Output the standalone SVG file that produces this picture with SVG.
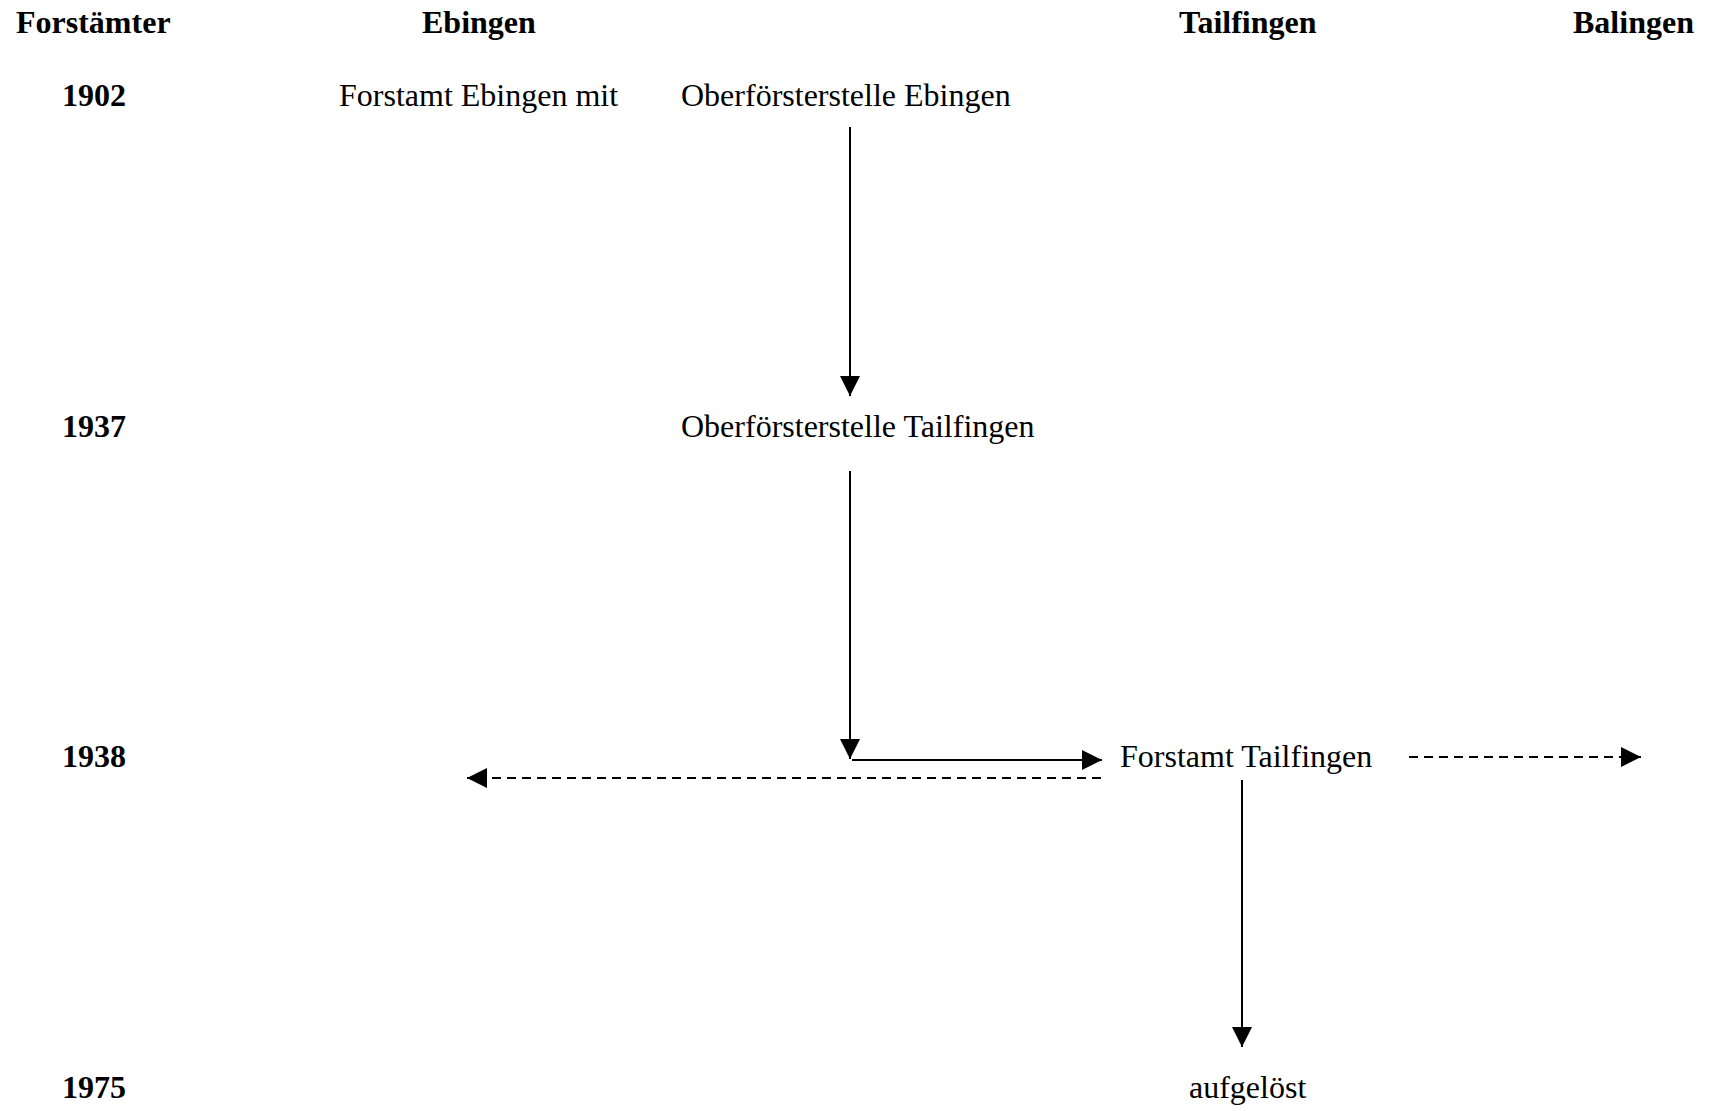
<svg xmlns="http://www.w3.org/2000/svg" width="1713" height="1111" viewBox="0 0 1713 1111">
<style>
text{font-family:"Liberation Serif","Times New Roman",serif;font-size:32px;fill:#000}
.h{font-weight:bold}
.c{fill:none;stroke:#000;stroke-width:2}
.d{stroke-dasharray:9 6}
</style>
<defs>
<marker id="ah" markerUnits="userSpaceOnUse" markerWidth="20" markerHeight="20" refX="20" refY="10" orient="auto" viewBox="0 0 20 20">
<path d="M0,0 L20,10 L0,20 z" fill="#000"/>
</marker>
</defs>
<rect width="1713" height="1111" fill="#fff"/>
<g id="headers">
<text class="h" x="16" y="33">Forstämter</text>
<text class="h" x="422" y="33">Ebingen</text>
<text class="h" x="1179" y="33">Tailfingen</text>
<text class="h" x="1573" y="33">Balingen</text>
</g>
<g id="years">
<text class="h" x="62" y="106">1902</text>
<text class="h" x="62" y="437">1937</text>
<text class="h" x="62" y="767">1938</text>
<text class="h" x="62" y="1098">1975</text>
</g>
<g id="n-forstamt-ebingen"><text x="339" y="106">Forstamt Ebingen mit</text></g>
<g id="n-ofs-ebingen"><text x="681" y="106">Oberförsterstelle Ebingen</text></g>
<g id="n-ofs-tailfingen"><text x="681" y="437">Oberförsterstelle Tailfingen</text></g>
<g id="n-forstamt-tailfingen"><text x="1120" y="767">Forstamt Tailfingen</text></g>
<g id="n-aufgeloest"><text x="1189" y="1098">aufgelöst</text></g>
<g id="connectors">
<line class="c" x1="850" y1="127" x2="850" y2="396" marker-end="url(#ah)"/>
<line class="c" x1="850" y1="471" x2="850" y2="759" marker-end="url(#ah)"/>
<line class="c" x1="852" y1="760" x2="1102" y2="760" marker-end="url(#ah)"/>
<line class="c d" x1="1101" y1="778" x2="467" y2="778" marker-end="url(#ah)"/>
<line class="c d" x1="1409" y1="757" x2="1641" y2="757" marker-end="url(#ah)"/>
<line class="c" x1="1242" y1="780" x2="1242" y2="1047" marker-end="url(#ah)"/>
</g>
</svg>
